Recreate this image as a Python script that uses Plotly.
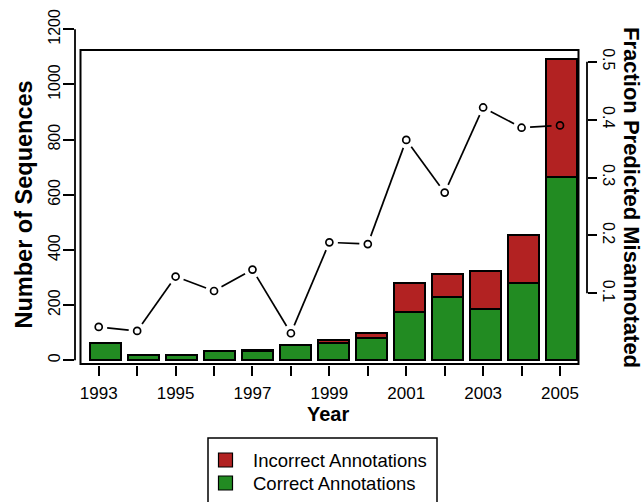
import plotly.graph_objects as go

# ---------------- data ----------------
years = [1993, 1994, 1995, 1996, 1997, 1998, 1999, 2000, 2001, 2002, 2003, 2004, 2005]
correct = [63, 21, 19, 32, 34, 55, 63, 80, 176, 229, 187, 279, 666]
incorrect = [0, 0, 0, 2, 3, 0, 12, 19, 103, 84, 137, 176, 428]
fraction = [0.042, 0.035, 0.129, 0.104, 0.141, 0.031, 0.188, 0.185, 0.365, 0.274, 0.421, 0.386, 0.390]
left_ticks = [0, 200, 400, 600, 800, 1000, 1200]
right_ticks = [0.1, 0.2, 0.3, 0.4, 0.5]
year_labels = [str(y) if (y - 1993) % 2 == 0 else "" for y in years]
legend_names = ["Incorrect Annotations", "Correct Annotations"]

# ---------------- layout geometry ----------------
W, H = 641, 502
ML, MR, MT, MB = 75, 54, 29, 137
PW, PH = W - ML - MR, H - MT - MB

bar_range = [-0.8026, 12.671]
year_range = [1992.383, 2005.702]
left_range = [-17.0, 1201.1]
right_range = [-0.0238, 0.5565]

FONT = "Liberation Sans, Arial, sans-serif"
RED = "#B22222"
GREEN = "#228B22"

fig = go.Figure()

idx = list(range(len(years)))
fig.add_trace(go.Bar(x=idx, y=correct, name=legend_names[1],
                     marker=dict(color=GREEN, line=dict(color="black", width=2)),
                     width=0.82, xaxis="x", yaxis="y", showlegend=False))
fig.add_trace(go.Bar(x=idx, y=incorrect, name=legend_names[0],
                     marker=dict(color=RED, line=dict(color="black", width=2)),
                     width=0.82, xaxis="x", yaxis="y", showlegend=False))

# line with gaps around the points (like R type="b")
kx = PW / (year_range[1] - year_range[0])
ky = PH / (right_range[1] - right_range[0])
gap = 8.5
lx, ly = [], []
for i in range(len(years) - 1):
    x0, y0 = years[i], fraction[i]
    x1, y1 = years[i + 1], fraction[i + 1]
    dxp, dyp = (x1 - x0) * kx, (y1 - y0) * ky
    d = (dxp ** 2 + dyp ** 2) ** 0.5
    if d <= 2 * gap:
        continue
    f = gap / d
    lx += [x0 + (x1 - x0) * f, x1 - (x1 - x0) * f, None]
    ly += [y0 + (y1 - y0) * f, y1 - (y1 - y0) * f, None]
fig.add_trace(go.Scatter(x=lx, y=ly, mode="lines", line=dict(color="black", width=1.7),
                         showlegend=False, xaxis="x2", yaxis="y2", hoverinfo="skip"))
fig.add_trace(go.Scatter(x=years, y=fraction, mode="markers",
                         marker=dict(symbol="circle-open", size=7, color="black",
                                     line=dict(width=1.7, color="black")),
                         showlegend=False, xaxis="x2", yaxis="y2"))

fig.update_layout(
    width=W, height=H,
    margin=dict(l=ML, r=MR, t=MT, b=MB, pad=0, autoexpand=False),
    paper_bgcolor="white", plot_bgcolor="white",
    barmode="stack",
    showlegend=False,
    font=dict(family=FONT, size=16, color="black"),
    xaxis=dict(range=bar_range, visible=False, showgrid=False, zeroline=False, domain=[0, 1]),
    yaxis=dict(range=left_range, showgrid=False, zeroline=False, showline=False,
               tickmode="array", tickvals=left_ticks, ticktext=[str(v) for v in left_ticks],
               ticks="outside", ticklen=11, tickwidth=1.8, tickcolor="black",
               ticklabelstandoff=-3,
               tickangle=-90, tickfont=dict(family=FONT, size=16, color="black")),
    xaxis2=dict(range=year_range, overlaying="x", anchor="y2", side="bottom",
                showgrid=False, zeroline=False, showline=False,
                tickmode="array", tickvals=years, ticktext=year_labels,
                ticks="outside", ticklen=10, tickwidth=1.8, tickcolor="black",
                ticklabelstandoff=3,
                tickfont=dict(family=FONT, size=17, color="black")),
    yaxis2=dict(range=right_range, overlaying="y", anchor="x2", side="right",
                showgrid=False, zeroline=False, showline=False,
                tickmode="array", tickvals=right_ticks, ticktext=[str(v) for v in right_ticks],
                ticks="outside", ticklen=9, tickwidth=1.8, tickcolor="black",
                tickangle=90, tickfont=dict(family=FONT, size=16, color="black")),
)

def px_x(p):
    return (p - ML) / PW

def px_y(p):
    return (MT + PH - p) / PH

shapes = [
    # plot box
    dict(type="rect", xref="paper", yref="paper", x0=px_x(80.5), x1=px_x(578.5),
         y0=px_y(364), y1=px_y(50), line=dict(color="black", width=2), layer="above"),
    # left axis line (first to last tick)
    dict(type="line", xref="paper", yref="y", x0=0, x1=0, y0=left_ticks[0], y1=left_ticks[-1],
         line=dict(color="black", width=1.8)),
    # right axis line
    dict(type="line", xref="paper", yref="y2", x0=1, x1=1, y0=right_ticks[0], y1=right_ticks[-1],
         line=dict(color="black", width=1.8)),
    # legend frame (runs past the bottom edge, as in the original)
    dict(type="rect", xref="paper", yref="paper", x0=px_x(208), x1=px_x(437),
         y0=px_y(515), y1=px_y(438), line=dict(color="black", width=1.5),
         fillcolor="white", layer="above"),
    # legend keys
    dict(type="rect", xref="paper", yref="paper", x0=px_x(218.5), x1=px_x(232.5),
         y0=px_y(467), y1=px_y(453), line=dict(color="black", width=1.2), fillcolor=RED),
    dict(type="rect", xref="paper", yref="paper", x0=px_x(218.5), x1=px_x(232.5),
         y0=px_y(490), y1=px_y(476), line=dict(color="black", width=1.2), fillcolor=GREEN),
]
fig.update_layout(shapes=shapes)

annotations = [
    dict(text="<b>Year</b>", xref="paper", yref="paper", x=px_x(328), y=px_y(414),
         xanchor="center", yanchor="middle", showarrow=False,
         font=dict(family=FONT, size=20, color="black")),
    dict(text="<b>Number of Sequences</b>", xref="paper", yref="paper", x=px_x(23), y=px_y(204.5),
         xanchor="center", yanchor="middle", showarrow=False, textangle=-90,
         font=dict(family=FONT, size=23.5, color="black")),
    dict(text="<b>Fraction Predicted Misannotated</b>", xref="paper", yref="paper",
         x=px_x(632), y=px_y(197), xanchor="center", yanchor="middle", showarrow=False,
         textangle=90, font=dict(family=FONT, size=22, color="black")),
    dict(text=legend_names[0], xref="paper", yref="paper", x=px_x(251), y=px_y(460),
         xanchor="left", yanchor="middle", showarrow=False,
         font=dict(family=FONT, size=18.5, color="black")),
    dict(text=legend_names[1], xref="paper", yref="paper", x=px_x(251), y=px_y(483),
         xanchor="left", yanchor="middle", showarrow=False,
         font=dict(family=FONT, size=18.5, color="black")),
]
fig.update_layout(annotations=annotations)

fig.write_html("out.html", config={"displayModeBar": False},
               post_script="document.body.style.margin='0';")
